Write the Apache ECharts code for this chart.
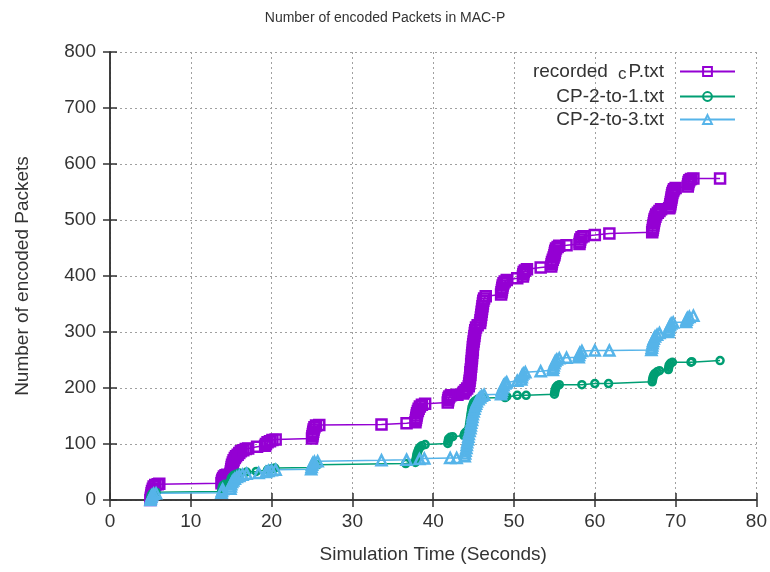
<!DOCTYPE html>
<html>
<head>
    <meta charset="UTF-8">
    <title>Number of encoded Packets in MAC-P</title>
    <script type="text/javascript" src="https://cdn.jsdelivr.net/npm/echarts@6/dist/echarts.min.js"></script>
    <style type="text/css">
        html, body { margin: 0; padding: 0; background: #fff; }
        #chart { width: 770px; height: 572px; }
    </style>
</head>
<body>
    <div id="chart"></div>

    <script>
    // legend names
    var seriesNames = ['recorded_cP.txt', 'CP-2-to-1.txt', 'CP-2-to-3.txt'];

    // [time (s), encoded packets] (clusters = many packets in a short time)
    var recordedPts = [
        [5.0,0],[5.05,4],[5.1,8],[5.15,12],[5.2,16],[5.3,20],[5.4,24],[5.6,27],[5.9,28],[6.1,29],
        [13.8,30],[13.85,33],[13.9,36],[14.0,39],[14.1,42],[14.3,44],[14.5,45],
        [14.9,47],[14.95,51],[15.0,55],[15.05,59],[15.1,63],[15.2,67],[15.3,71],[15.45,75],[15.6,78],
        [15.8,81],[16.0,84],[16.2,87],[16.5,89],[16.8,91],[17.1,92],
        [18.2,95],
        [19.2,97],[19.3,100],[19.5,103],[19.8,105],[20.1,107],[20.5,108],
        [25.0,110],[25.05,114],[25.1,118],[25.15,122],[25.2,126],[25.3,130],[25.5,133],[25.9,134],
        [33.6,135],
        [36.7,137],
        [37.8,139],[37.85,143],[37.9,147],[37.95,151],[38.0,155],[38.1,159],[38.2,163],[38.35,167],[38.6,170],[39.0,172],
        [41.8,174],[41.85,178],[41.9,182],[42.0,185],[42.2,187],[43.0,188],
        [43.7,190],[43.8,193],[44.0,196],[44.2,199],
        [44.4,203],[44.45,208],[44.5,213],[44.55,218],[44.6,223],[44.6,228],[44.65,233],[44.7,238],
        [44.7,243],[44.75,248],[44.8,253],[44.8,258],[44.85,263],[44.9,268],[44.9,273],[44.95,278],
        [45.0,283],[45.05,288],[45.1,293],[45.15,298],[45.2,303],[45.3,308],[45.5,312],[45.8,316],
        [45.85,321],[45.9,326],[45.95,331],[46.0,336],[46.05,341],[46.1,346],[46.15,351],[46.2,356],
        [46.3,360],[46.5,364],
        [48.4,367],[48.45,371],[48.5,375],[48.55,379],[48.6,383],[48.7,387],[48.85,390],[49.1,393],
        [50.4,396],
        [51.1,399],[51.15,403],[51.2,407],[51.35,410],[51.6,412],
        [53.3,415],
        [54.6,417],[54.65,421],[54.7,425],[54.8,429],[54.9,433],[55.0,437],[55.05,441],[55.1,445],
        [55.2,449],[55.4,452],[55.6,454],
        [56.5,455],
        [58.1,457],[58.15,461],[58.2,465],[58.35,469],[58.6,471],
        [60.0,473],
        [61.8,476],
        [67.1,478],[67.15,482],[67.2,486],[67.25,490],[67.3,494],[67.35,498],[67.4,502],[67.5,506],
        [67.6,510],[67.8,513],[68.0,516],[68.2,519],
        [69.2,521],
        [69.3,524],[69.35,528],[69.4,532],[69.45,536],[69.5,540],[69.55,544],[69.6,548],[69.7,552],
        [69.8,555],[70.0,557],
        [71.5,560],[71.55,564],[71.6,568],[71.7,571],[71.9,573],[72.2,574],
        [75.5,574]
    ];

    var cp21Pts = [
        [5.0,0],[5.05,4],[5.1,8],[5.2,11],[5.4,13],[5.7,14],
        [13.8,15],[13.85,19],[13.9,23],[14.0,26],[14.2,28],
        [14.9,30],[14.95,34],[15.0,38],[15.1,41],[15.3,44],[15.6,46],[16.0,48],
        [16.9,50],[18.1,51],[19.5,54],[20.0,56],[20.4,57],
        [25.1,58],[25.3,61],[25.7,63],
        [36.6,65],
        [37.8,67],[37.85,71],[37.9,75],[37.95,79],[38.0,83],[38.1,87],[38.2,91],[38.35,94],[38.6,97],[39.0,99],
        [41.8,101],[41.85,105],[41.9,109],[42.1,112],[42.4,113],
        [43.8,115],[43.9,119],[44.1,122],
        [44.4,126],[44.45,131],[44.5,136],[44.55,141],[44.6,146],[44.65,151],[44.7,156],[44.75,161],
        [44.8,166],[44.9,170],[45.0,174],[45.2,177],[45.5,180],
        [46.3,182],
        [48.9,183],[49.1,185],
        [50.4,187],[51.5,187],
        [55.0,189],[55.05,193],[55.1,197],[55.2,201],[55.35,204],[55.6,206],
        [58.4,206],
        [60.0,208],
        [61.7,208],
        [67.1,211],[67.15,215],[67.2,219],[67.3,223],[67.45,226],[67.7,229],[68.0,231],
        [69.1,233],[69.15,237],[69.2,241],[69.35,244],[69.6,246],
        [71.9,246],[72.0,247],
        [75.5,249]
    ];

    var cp23Pts = [
        [5.0,0],[5.05,3],[5.1,6],[5.2,9],[5.4,11],[5.7,12],
        [13.8,13],[13.85,16],[13.95,19],
        [14.9,20],[14.95,24],[15.0,28],[15.1,32],[15.25,35],[15.45,38],[15.7,41],[16.0,43],[16.4,45],[16.9,47],
        [18.4,48],[19.3,50],[19.6,52],[20.0,53],[20.5,54],
        [24.9,55],[24.95,59],[25.0,63],[25.1,66],[25.3,68],[25.7,69],
        [33.6,71],
        [36.7,72],
        [38.3,73],[38.9,74],
        [42.1,75],[42.9,75],
        [43.9,78],[43.95,83],[44.0,88],[44.1,93],[44.15,98],[44.2,103],[44.3,108],[44.35,113],
        [44.4,118],[44.5,123],[44.6,128],[44.65,133],[44.7,138],[44.8,143],[44.85,148],[44.9,153],
        [45.0,158],[45.1,163],[45.2,168],[45.3,172],[45.4,176],[45.6,180],[45.8,183],[46.0,186],[46.3,188],
        [48.4,189],[48.45,193],[48.5,197],[48.6,201],[48.7,205],[48.9,208],[49.1,210],
        [50.4,213],
        [50.9,215],[50.95,219],[51.0,223],[51.15,226],[51.4,228],
        [53.3,230],
        [54.8,232],[54.85,236],[54.9,240],[55.0,244],[55.1,248],[55.3,251],[55.6,253],
        [56.5,254],
        [58.0,255],[58.05,259],[58.15,263],[58.4,266],
        [60.0,267],
        [61.8,267],
        [67.0,268],[67.05,272],[67.1,276],[67.15,280],[67.2,284],[67.3,288],[67.45,292],[67.7,295],[68.0,298],
        [69.1,300],[69.15,304],[69.2,308],[69.3,312],[69.45,315],[69.7,317],
        [71.3,318],[71.35,322],[71.45,325],[71.7,327],[72.2,329]
    ];

    var colors = ['#9400d3', '#009e73', '#56b4e9'];
    var font = 'Liberation Sans, Arial, sans-serif';
    var textColor = '#333';

    var myChart = echarts.init(document.getElementById('chart'), null, { renderer: 'canvas' });

    function mkSeries(name, data, color, symbol, size) {
        return {
            name: name,
            type: 'line',
            data: data,
            clip: false,
            symbol: symbol,
            symbolSize: size,
            showSymbol: true,
            showAllSymbol: true,
            color: color,
            lineStyle: { color: color, width: 1.5 },
            itemStyle: { color: 'rgba(0,0,0,0)', borderColor: color, borderWidth: 2.5 },
            emphasis: { disabled: true },
            z: 3
        };
    }

    var splitDots = { show: true, lineStyle: { color: '#a0a0a0', type: [2, 3], width: 1 } };
    var axisBlack = { show: true, lineStyle: { color: '#333', width: 1.5 } };
    var tickIn = { show: true, inside: true, length: 7, lineStyle: { color: '#333', width: 1.5 } };

    var option = {
        animation: false,
        backgroundColor: '#fff',
        textStyle: { fontFamily: font },
        title: {
            text: 'Number of encoded Packets in MAC-P',
            left: 'center',
            top: 6,
            textStyle: { fontSize: 14, fontWeight: 'normal', color: textColor, fontFamily: font }
        },
        grid: { left: 110, right: 13, top: 52, bottom: 72, show: false },
        legend: {
            orient: 'vertical',
            right: 29,
            top: 57,
            align: 'right',
            itemWidth: 55,
            itemHeight: 11,
            itemGap: 4,
            data: seriesNames,
            formatter: function (name) {
                if (name === 'recorded_cP.txt') return 'recorded{sub|c}P.txt';
                return name;
            },
            textStyle: {
                fontSize: 19,
                color: textColor,
                fontFamily: font,
                padding: [0, 11, 0, 0],
                rich: {
                    sub: { fontSize: 17, fontFamily: font, color: textColor, padding: [6, 2, 0, 10] }
                }
            }
        },
        xAxis: [{
            type: 'value',
            min: 0, max: 80, interval: 10,
            name: 'Simulation Time (Seconds)',
            nameLocation: 'middle',
            nameGap: 45,
            nameTextStyle: { fontSize: 19, color: textColor, fontFamily: font },
            axisLine: axisBlack,
            axisTick: tickIn,
            axisLabel: { fontSize: 19, color: textColor, margin: 12, fontFamily: font },
            splitLine: splitDots
        }, {
            type: 'value', position: 'top',
            min: 0, max: 80, interval: 10,
            axisLine: axisBlack,
            axisTick: tickIn,
            axisLabel: { show: false },
            splitLine: { show: false }
        }],
        yAxis: [{
            type: 'value',
            min: 0, max: 800, interval: 100,
            name: 'Number of encoded Packets',
            nameLocation: 'middle',
            nameGap: 78,
            nameTextStyle: { fontSize: 19, color: textColor, fontFamily: font },
            axisLine: axisBlack,
            axisTick: tickIn,
            axisLabel: { fontSize: 19, color: textColor, margin: 14, fontFamily: font },
            splitLine: splitDots
        }, {
            type: 'value', position: 'right',
            min: 0, max: 800, interval: 100,
            axisLine: axisBlack,
            axisTick: tickIn,
            axisLabel: { show: false },
            splitLine: { show: false }
        }],
        series: [
            mkSeries(seriesNames[0], recordedPts, colors[0], 'rect', 10),
            mkSeries(seriesNames[1], cp21Pts, colors[1], 'circle', 7),
            mkSeries(seriesNames[2], cp23Pts, colors[2], 'triangle', 10)
        ]
    };

    myChart.setOption(option);
    </script>
</body>
</html>
